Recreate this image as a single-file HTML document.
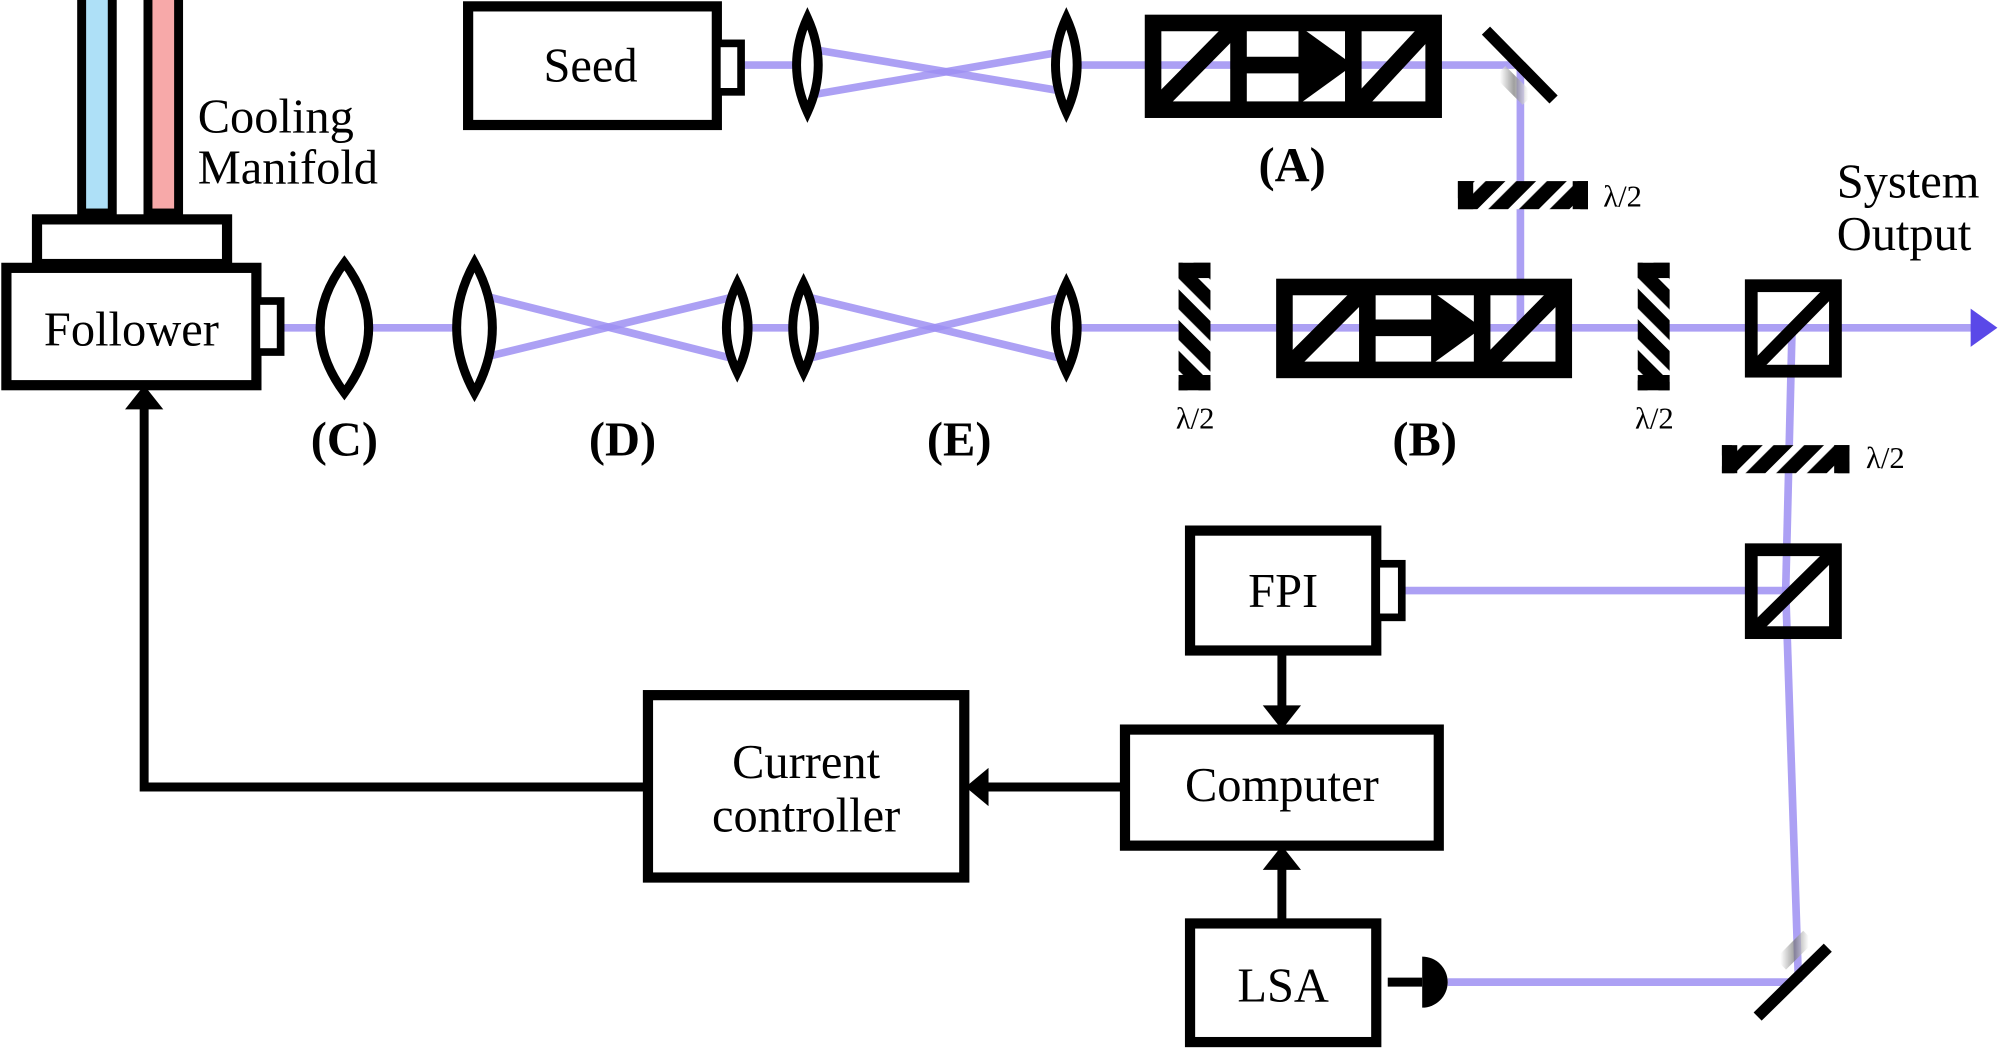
<!DOCTYPE html>
<html><head><meta charset="utf-8"><style>
html,body{margin:0;padding:0;background:#fff;overflow:hidden}
svg{display:block}
text{font-family:"Liberation Serif",serif;fill:#000}
</style></head><body>
<svg width="2000" height="1051" viewBox="0 0 1568 824" xmlns="http://www.w3.org/2000/svg">
<defs>
<pattern id="hs" patternUnits="userSpaceOnUse" width="17" height="17" patternTransform="rotate(45)">
<rect width="17" height="17" fill="#000"/><rect width="6" height="17" fill="#fff"/>
</pattern>
<pattern id="vs" patternUnits="userSpaceOnUse" width="17" height="17" patternTransform="rotate(-45)">
<rect width="17" height="17" fill="#000"/><rect width="6" height="17" fill="#fff"/>
</pattern>
<linearGradient id="mg" x1="0" y1="0" x2="1" y2="0"><stop offset="0" stop-color="#fff"/><stop offset="0.5" stop-color="#777"/><stop offset="1" stop-color="#fff"/></linearGradient>
</defs>
<g stroke="#9d8ff2" stroke-width="6" fill="none" stroke-opacity="0.85">
<line x1="582" y1="51" x2="633" y2="51"/>
<line x1="633" y1="38" x2="836" y2="72"/>
<line x1="633" y1="75" x2="836" y2="40"/>
<line x1="836" y1="51" x2="1192" y2="51"/>
<line x1="1192" y1="51" x2="1192" y2="257"/>
<line x1="222" y1="257" x2="372" y2="257"/>
<line x1="372" y1="230" x2="578" y2="282"/>
<line x1="372" y1="282" x2="578" y2="232"/>
<line x1="578" y1="257" x2="630" y2="257"/>
<line x1="630" y1="232" x2="836" y2="282"/>
<line x1="630" y1="282" x2="836" y2="232"/>
<line x1="836" y1="257" x2="1548" y2="257"/>
<line x1="1405" y1="257" x2="1400" y2="463"/>
<line x1="1400" y1="463" x2="1410" y2="770"/>
<line x1="1100" y1="463" x2="1402" y2="463"/>
<line x1="1135" y1="770" x2="1408" y2="770"/>
</g>
<polygon points="1545,242 1566,257 1545,272" fill="#5a48e8"/>
<!-- cooling -->
<rect x="64" y="-5" width="24" height="172" fill="#aee0f7" stroke="#000" stroke-width="7"/>
<rect x="116" y="-5" width="24" height="172" fill="#f7a9a9" stroke="#000" stroke-width="7"/>
<text x="155" y="104" font-size="38">Cooling</text>
<text x="155" y="144" font-size="38">Manifold</text>
<g fill="#fff" stroke="#000" stroke-width="8">
<rect x="29" y="172" width="149" height="35"/>
<rect x="5" y="210" width="196" height="92"/>
<rect x="201" y="236" width="19" height="40" stroke-width="6"/>
<rect x="367" y="5" width="195" height="93"/>
<rect x="562" y="34" width="19" height="38" stroke-width="6"/>
<rect x="933" y="416" width="146" height="94"/>
<rect x="1079" y="442" width="20" height="42" stroke-width="6"/>
<rect x="882" y="572" width="246" height="91"/>
<rect x="933" y="724" width="146" height="93"/>
<rect x="508" y="545" width="248" height="143"/>
</g>
<text x="103" y="271" font-size="38" text-anchor="middle">Follower</text>
<text x="463" y="64" font-size="38" text-anchor="middle">Seed</text>
<text x="1006" y="476" font-size="38" text-anchor="middle">FPI</text>
<text x="1005" y="628" font-size="38" text-anchor="middle">Computer</text>
<text x="1006" y="785" font-size="38" text-anchor="middle">LSA</text>
<text x="632" y="610" font-size="38" text-anchor="middle">Current</text>
<text x="632" y="652" font-size="38" text-anchor="middle">controller</text>
<!-- detector -->
<line x1="1088" y1="770" x2="1115" y2="770" stroke="#000" stroke-width="7"/>
<path d="M1115,750 A20,20 0 0 1 1115,790 Z" fill="#000"/>
<!-- lenses -->
<g fill="#fff" stroke="#000" stroke-width="7">
<path d="M633,14 Q650,51 633,88 Q616,51 633,14Z"/>
<path d="M836,14 Q853,51 836,88 Q819,51 836,14Z"/>
<path d="M270,206 Q308,257 270,308 Q232,257 270,206Z"/>
<path d="M372,206 Q400,257 372,308 Q344,257 372,206Z"/>
<path d="M578,222 Q595,257 578,292 Q561,257 578,222Z"/>
<path d="M630,222 Q647,257 630,292 Q613,257 630,222Z"/>
<path d="M836,222 Q853,257 836,292 Q819,257 836,222Z"/>
</g>
<!-- isolators -->
<g fill="none" stroke="#000" stroke-width="13">
<rect x="904" y="18" width="220" height="68"/>
<line x1="971" y1="18" x2="971" y2="86"/><line x1="1061" y1="18" x2="1061" y2="86"/>
<line x1="904" y1="86" x2="971" y2="18"/><line x1="1061" y1="86" x2="1124" y2="18"/>
<line x1="971" y1="51" x2="1025" y2="51"/>
<rect x="1007" y="225" width="219" height="65"/>
<line x1="1072" y1="225" x2="1072" y2="290"/><line x1="1162" y1="225" x2="1162" y2="290"/>
<line x1="1007" y1="290" x2="1072" y2="225"/><line x1="1162" y1="290" x2="1226" y2="225"/>
<line x1="1072" y1="257" x2="1125" y2="257"/>
<rect x="1373" y="224" width="66" height="67" stroke-width="10"/><line x1="1373" y1="291" x2="1439" y2="224" stroke-width="10"/>
<rect x="1373" y="431" width="66" height="65" stroke-width="10"/><line x1="1373" y1="496" x2="1439" y2="431" stroke-width="10"/>
</g>
<polygon points="1018,20 1061,51 1018,82" fill="#000"/>
<polygon points="1122,228 1162,257 1122,286" fill="#000"/>
<!-- mirrors -->
<line x1="1165" y1="24" x2="1218" y2="78" stroke="#000" stroke-width="9"/>
<line x1="1176" y1="56" x2="1198" y2="78" stroke="url(#mg)" stroke-width="12" opacity="0.7"/>
<line x1="1378" y1="797" x2="1433" y2="743" stroke="#000" stroke-width="9"/>
<line x1="1396" y1="756" x2="1418" y2="734" stroke="url(#mg)" stroke-width="12" opacity="0.7"/>
<!-- waveplates -->
<rect x="1143" y="142" width="102" height="22" fill="url(#hs)"/>
<rect x="1143" y="142" width="12" height="22" fill="#000"/><rect x="1233" y="142" width="12" height="22" fill="#000"/>
<rect x="1350" y="349" width="100" height="22" fill="url(#hs)"/>
<rect x="1350" y="349" width="12" height="22" fill="#000"/><rect x="1438" y="349" width="12" height="22" fill="#000"/>
<rect x="924" y="206" width="25" height="100" fill="url(#vs)"/>
<rect x="924" y="206" width="25" height="12" fill="#000"/><rect x="924" y="294" width="25" height="12" fill="#000"/>
<rect x="1284" y="206" width="25" height="100" fill="url(#vs)"/>
<rect x="1284" y="206" width="25" height="12" fill="#000"/><rect x="1284" y="294" width="25" height="12" fill="#000"/>
<text x="1257" y="162" font-size="24">λ/2</text>
<text x="1463" y="367" font-size="24">λ/2</text>
<text x="937" y="336" font-size="24" text-anchor="middle">λ/2</text>
<text x="1297" y="336" font-size="24" text-anchor="middle">λ/2</text>
<g font-size="38" font-weight="bold" text-anchor="middle">
<text x="1013" y="142">(A)</text>
<text x="270" y="357">(C)</text>
<text x="488" y="357">(D)</text>
<text x="752" y="357">(E)</text>
<text x="1117" y="357">(B)</text>
</g>
<text x="1440" y="155" font-size="38">System</text>
<text x="1440" y="196" font-size="38">Output</text>
<!-- signal arrows -->
<g stroke="#000" stroke-width="7" fill="none">
<line x1="1005" y1="511" x2="1005" y2="555"/>
<line x1="1005" y1="724" x2="1005" y2="680"/>
<line x1="882" y1="617" x2="772" y2="617"/>
<polyline points="508,617 113,617 113,318"/>
</g>
<polygon points="990,553 1020,553 1005,572" fill="#000"/>
<polygon points="990,682 1020,682 1005,663" fill="#000"/>
<polygon points="775,602 775,632 757,617" fill="#000"/>
<polygon points="98,321 128,321 113,302" fill="#000"/>
</svg>
</body></html>
